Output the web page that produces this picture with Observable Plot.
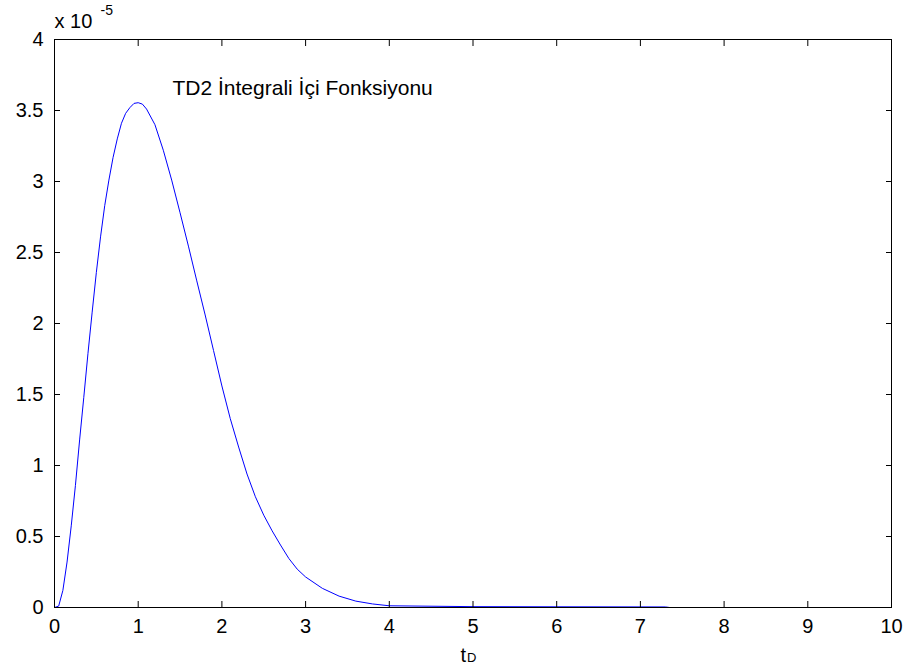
<!DOCTYPE html>
<html>
<head>
<meta charset="utf-8">
<script src="https://cdn.jsdelivr.net/npm/d3@7"></script>
<script src="https://cdn.jsdelivr.net/npm/@observablehq/plot@0.6"></script>
<style>
  html, body { margin: 0; padding: 0; background: #fff; }
  svg { display: block; }
</style>
</head>
<body>
<div id="chart"></div>
<script>
// Values (y in units of 1e-5)
const tD = [0, 0.05, 0.1, 0.15, 0.2, 0.25, 0.3, 0.35, 0.4, 0.45, 0.5, 0.55, 0.6, 0.65, 0.7, 0.75, 0.8, 0.85, 0.9, 0.95, 1.0,
            1.05, 1.1, 1.2, 1.3, 1.4, 1.5, 1.6, 1.7, 1.8, 1.9, 2.0, 2.1, 2.2, 2.3, 2.4, 2.5, 2.6, 2.7, 2.8, 2.9, 3.0,
            3.2, 3.4, 3.6, 3.8, 4.0, 5.0, 6.0, 7.3, 7.35, 8, 9, 10];
const values = [0, 0.01, 0.12, 0.32, 0.575, 0.86, 1.18, 1.48, 1.79, 2.08, 2.36, 2.61, 2.83, 3.01, 3.17, 3.30, 3.41, 3.48, 3.52, 3.55, 3.555,
            3.545, 3.51, 3.40, 3.22, 3.01, 2.78, 2.545, 2.30, 2.06, 1.81, 1.56, 1.33, 1.13, 0.94, 0.78, 0.65, 0.54, 0.44, 0.345, 0.27, 0.215,
            0.135, 0.08, 0.045, 0.025, 0.012, 0.006, 0.005, 0.004, 0, 0, 0, 0];
const xTicks = [0, 1, 2, 3, 4, 5, 6, 7, 8, 9, 10];
const yTicks = [0, 0.5, 1, 1.5, 2, 2.5, 3, 3.5, 4];
const titleText = "TD2 İntegrali İçi Fonksiyonu";
const scaleBase = "x 10";
const scaleExp = "-5";
const xLabelMain = "t";
const xLabelSub = "D";

const data = tD.map((t, i) => ({t, v: values[i]}));
const font = "'Liberation Sans', Arial, Helvetica, sans-serif";

const chart = Plot.plot({
  width: 906,
  height: 671,
  marginLeft: 54,
  marginRight: 15,
  marginTop: 39,
  marginBottom: 64,
  style: {fontFamily: font, fontSize: "20px", color: "#000", background: "#fff"},
  x: {domain: [0, 10], label: null},
  y: {domain: [0, 4], label: null},
  marks: [
    Plot.line(data, {x: "t", y: "v", stroke: "#0000ff", strokeWidth: 1}),
    Plot.frame({stroke: "#000", strokeWidth: 1}),
    // labels
    Plot.axisX({ticks: xTicks, tickSize: 0, tickPadding: 11, tickFormat: d => String(d), label: null, fontSize: 20}),
    Plot.axisY({ticks: yTicks, tickSize: 0, tickPadding: 11, tickFormat: d => String(d), label: null, fontSize: 20}),
    // inward ticks on all sides
    Plot.axisX({ticks: xTicks, anchor: "bottom", tickSize: -6, tickFormat: () => "", label: null, stroke: "#000"}),
    Plot.axisX({ticks: xTicks, anchor: "top", tickSize: -6, tickFormat: () => "", label: null, stroke: "#000"}),
    Plot.axisY({ticks: yTicks, anchor: "left", tickSize: -6, tickFormat: () => "", label: null, stroke: "#000"}),
    Plot.axisY({ticks: yTicks, anchor: "right", tickSize: -6, tickFormat: () => "", label: null, stroke: "#000"}),
    // annotation
    Plot.text([titleText], {x: 1.41, y: 3.66, text: d => d, textAnchor: "start", lineAnchor: "middle", fontSize: 21, fill: "#000"}),
    // exponent
    Plot.text([scaleBase], {frameAnchor: "top-left", text: d => d, textAnchor: "start", lineAnchor: "bottom", dx: 0, dy: -12, fontSize: 20, fill: "#000"}),
    Plot.text([scaleExp], {frameAnchor: "top-left", text: d => d, textAnchor: "start", lineAnchor: "bottom", dx: 46, dy: -25, fontSize: 14, fill: "#000"}),
    // x label with subscript
    Plot.text([xLabelMain], {frameAnchor: "bottom", text: d => d, textAnchor: "start", lineAnchor: "bottom", dx: -12.5, dy: 54, fontSize: 20, fill: "#000"}),
    Plot.text([xLabelSub], {frameAnchor: "bottom", text: d => d, textAnchor: "start", lineAnchor: "bottom", dx: -6, dy: 54.5, fontSize: 13, fill: "#000"})
  ]
});
document.getElementById("chart").appendChild(chart);
</script>
</body>
</html>
